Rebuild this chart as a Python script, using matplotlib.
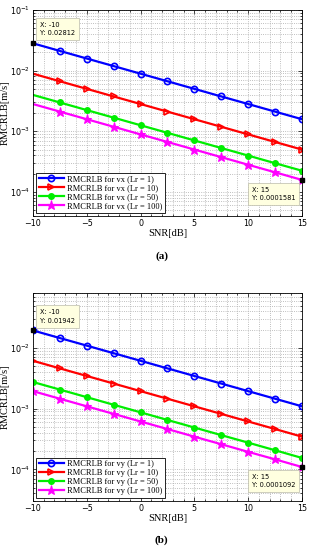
import matplotlib
matplotlib.use("Agg")
import matplotlib.pyplot as plt
from matplotlib.ticker import LogLocator, MultipleLocator, NullFormatter

# SNR axis (dB)
snr = [-10, -7.5, -5, -2.5, 0, 2.5, 5, 7.5, 10, 12.5, 15]

# (a) RMCRLB for vx
vx_lr1 = [0.02812, 0.02109, 0.01581, 0.01186, 0.008892, 0.006668, 0.005001,
          0.003750, 0.002812, 0.002109, 0.001581]
vx_lr10 = [0.008892, 0.006668, 0.005001, 0.003750, 0.002812, 0.002109,
           0.001581, 0.001186, 0.000889, 0.000667, 0.000500]
vx_lr50 = [0.003977, 0.002982, 0.002236, 0.001677, 0.001258, 0.000943,
           0.000707, 0.000530, 0.000398, 0.000298, 0.000224]
vx_lr100 = [0.002812, 0.002109, 0.001581, 0.001186, 0.000889, 0.000667,
            0.000500, 0.000375, 0.000281, 0.000211, 0.0001581]

# (b) RMCRLB for vy
vy_lr1 = [0.01942, 0.01456, 0.01092, 0.008189, 0.006141, 0.004605, 0.003453,
          0.002590, 0.001942, 0.001456, 0.001092]
vy_lr10 = [0.006141, 0.004605, 0.003453, 0.002590, 0.001942, 0.001456,
           0.001092, 0.000819, 0.000614, 0.000461, 0.000345]
vy_lr50 = [0.002746, 0.002060, 0.001545, 0.001158, 0.000869, 0.000651,
           0.000488, 0.000366, 0.000275, 0.000206, 0.000154]
vy_lr100 = [0.001942, 0.001456, 0.001092, 0.000819, 0.000614, 0.000461,
            0.000345, 0.000259, 0.000194, 0.000146, 0.0001092]

lr_values = [1, 10, 50, 100]

styles = [
    dict(color="#0000ff", marker="o", mfc="none", ms=4.5, mew=1.2),
    dict(color="#ff0000", marker=">", mfc="none", ms=5, mew=1.2),
    dict(color="#00ee00", marker="o", mfc="#00ee00", ms=4, mew=1),
    dict(color="#ff00ff", marker="*", mfc="#ff00ff", ms=6.5, mew=0.8),
]

serif = ["Liberation Serif", "DejaVu Serif"]


def draw_panel(ax, series, comp, ylim, tips, first_marker):
    for vals, lr, st in zip(series, lr_values, styles):
        ax.plot(snr, vals, lw=1.6, markevery=slice(first_marker, None),
                label="RMCRLB for %s (Lr = %d)" % (comp, lr), **st)

    ax.set_yscale("log")
    ax.set_xlim(-10, 15)
    ax.set_ylim(*ylim)
    ax.xaxis.set_major_locator(MultipleLocator(5))
    ax.xaxis.set_minor_locator(MultipleLocator(1))
    ax.yaxis.set_major_locator(LogLocator(base=10, numticks=10))
    ax.yaxis.set_minor_locator(LogLocator(base=10, subs=range(2, 10), numticks=20))
    ax.yaxis.set_minor_formatter(NullFormatter())
    ax.tick_params(which="both", direction="in", top=True, right=True,
                   labelsize=5.8, width=0.5, pad=2)
    ax.tick_params(which="major", length=3)
    ax.tick_params(which="minor", length=1.5)
    ax.grid(True, which="both", ls=":", lw=0.6, color="#aaaaaa")
    for sp in ax.spines.values():
        sp.set_linewidth(0.6)

    ax.set_xlabel("SNR[dB]", family=serif, fontsize=7.5, labelpad=1)
    ax.set_ylabel("RMCRLB[m/s]", family=serif, fontsize=7.5)
    ax.yaxis.set_label_coords(-0.085, 0.5)

    leg = ax.legend(loc="lower left", prop={"family": serif, "size": 6},
                    fancybox=False, edgecolor="black", framealpha=1,
                    handlelength=3.0, borderaxespad=0.4, labelspacing=0.12,
                    borderpad=0.3, handletextpad=0.4)
    leg.get_frame().set_linewidth(0.6)

    # MATLAB style data tips
    for (x, y, dx, dy, ha, va) in tips:
        ax.plot([x], [y], "s", color="black", ms=3.5, clip_on=False, zorder=5)
        ax.annotate("X: %g\nY: %s" % (x, ("%.7f" % y).rstrip("0")),
                    xy=(x, y), xytext=(dx, dy), textcoords="offset points",
                    ha=ha, va=va, multialignment="left", fontsize=4.8,
                    linespacing=1.5,
                    bbox=dict(boxstyle="square,pad=0.6", fc="#ffffe0",
                              ec="#bbbbaa", lw=0.5), zorder=6)


fig = plt.figure(figsize=(3.11, 5.5), dpi=100)
ax_a = fig.add_axes([0.106, 0.607, 0.865, 0.375])
ax_b = fig.add_axes([0.106, 0.089, 0.865, 0.378])

draw_panel(ax_a, [vx_lr1, vx_lr10, vx_lr50, vx_lr100], "vx", (4e-5, 1e-1),
           [(-10, vx_lr1[0], 5, 5, "left", "bottom"),
            (15, vx_lr100[-1], -5, -5, "right", "top")], 1)
draw_panel(ax_b, [vy_lr1, vy_lr10, vy_lr50, vy_lr100], "vy", (3e-5, 8e-2),
           [(-10, vy_lr1[0], 5, 5, "left", "bottom"),
            (15, vy_lr100[-1], -5, -5, "right", "top")], 0)

fig.text(0.52, 0.535, "(a)", ha="center", va="center", family=serif,
         fontsize=8, fontweight="bold")
fig.text(0.52, 0.018, "(b)", ha="center", va="center", family=serif,
         fontsize=8, fontweight="bold")

fig.savefig("out.png", dpi=100)
